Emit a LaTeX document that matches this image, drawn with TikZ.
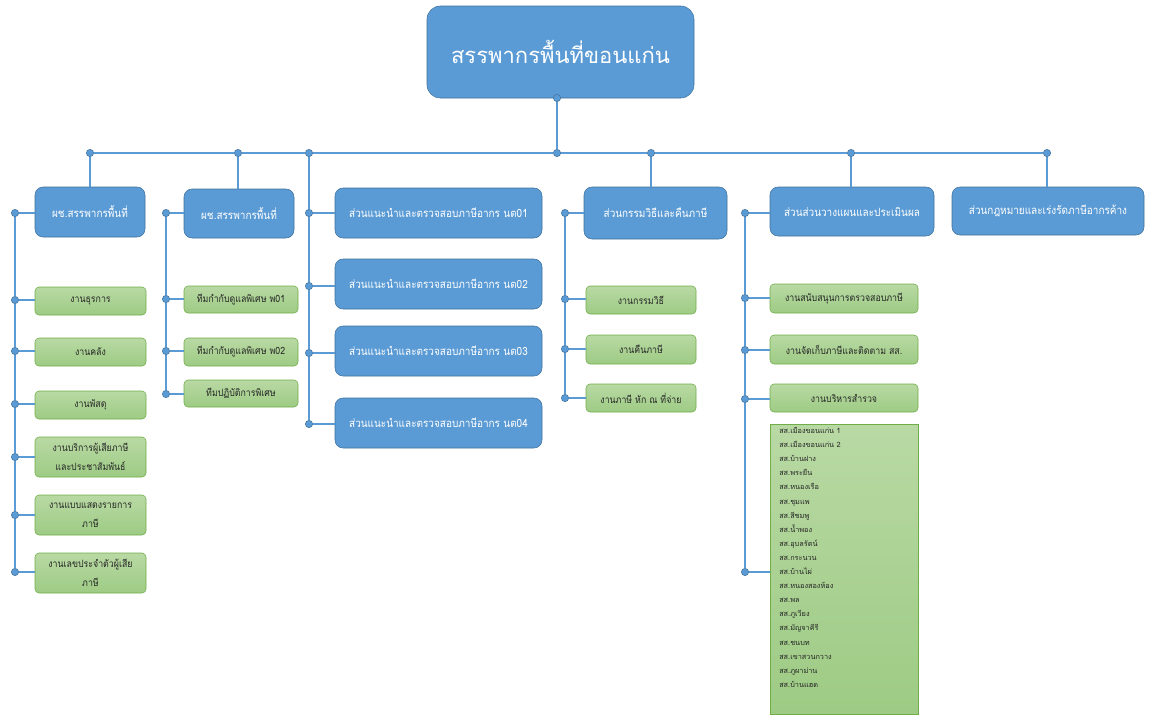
\documentclass[tikz,border=0pt]{standalone}
\usepackage{fontspec}
\newfontfamily\thaifont[Script=Thai]{Loma}
\newfontfamily\thaicond[Script=Thai,FakeStretch=0.88]{Loma}
\definecolor{unitfill}{HTML}{5B9BD5}
\definecolor{unitdraw}{HTML}{41719C}
\definecolor{taskdraw}{HTML}{70AD47}
\definecolor{tasktop}{HTML}{B9D9A4}
\definecolor{taskbot}{HTML}{9DCB84}
\definecolor{tasktext}{HTML}{262626}
\definecolor{wire}{HTML}{5B9BD5}
\tikzset{
  unit/.style={draw=unitdraw, fill=unitfill, rounded corners=6pt, text=white,
    inner sep=0pt, font=\thaicond\fontsize{8.5}{10}\selectfont},
  task/.style={draw=taskdraw, top color=tasktop, bottom color=taskbot,
    rounded corners=3pt, text=tasktext, inner sep=0pt, align=center,
    font=\thaicond\fontsize{7.5}{14.5}\selectfont},
  jdot/.style={circle, draw=unitdraw, fill=unitfill, inner sep=0pt, minimum size=5.5pt},
  wire/.style={draw=wire, line width=0.8pt},
  bus/.style={draw=wire, line width=1.3pt},
}
\begin{document}
\begin{tikzpicture}[x=0.75pt, y=-0.75pt]
  \useasboundingbox (0,0) rectangle (1157,719);

  % สำนักงาน
  \node[unit, minimum width=267*0.75pt, minimum height=92*0.75pt, rounded corners=10pt,
    font=\thaifont\fontsize{16.5}{20}\selectfont] (top) at (560.5,52) {สรรพากรพื้นที่ขอนแก่น};

  % ส่วนและผู้ช่วย
  \node[unit, minimum width=110*0.75pt, minimum height=50*0.75pt] (uA) at (90,212) {ผช.สรรพากรพื้นที่};
  \node[unit, minimum width=110*0.75pt, minimum height=49*0.75pt] (uB) at (239,213.5) {ผช.สรรพากรพื้นที่};
  \node[unit, minimum width=207*0.75pt, minimum height=50*0.75pt] (n1) at (438.5,213) {ส่วนแนะนำและตรวจสอบภาษีอากร นต01};
  \node[unit, minimum width=207*0.75pt, minimum height=50*0.75pt] (n2) at (438.5,284) {ส่วนแนะนำและตรวจสอบภาษีอากร นต02};
  \node[unit, minimum width=207*0.75pt, minimum height=50*0.75pt] (n3) at (438.5,351) {ส่วนแนะนำและตรวจสอบภาษีอากร นต03};
  \node[unit, minimum width=207*0.75pt, minimum height=50*0.75pt] (n4) at (438.5,423) {ส่วนแนะนำและตรวจสอบภาษีอากร นต04};
  \node[unit, minimum width=143*0.75pt, minimum height=52*0.75pt] (uD) at (655.5,213) {ส่วนกรรมวิธีและคืนภาษี};
  \node[unit, minimum width=164*0.75pt, minimum height=49*0.75pt] (uE) at (852,211.5) {ส่วนส่วนวางแผนและประเมินผล};
  \node[unit, minimum width=192*0.75pt, minimum height=48*0.75pt] (uF) at (1048,211) {ส่วนกฎหมายและเร่งรัดภาษีอากรค้าง};

  % งานใต้ ผช. 1
  \node[task, minimum width=111*0.75pt, minimum height=28*0.75pt] (a1) at (90.5,301) {งานธุรการ};
  \node[task, minimum width=111*0.75pt, minimum height=28*0.75pt] (a2) at (90.5,352) {งานคลัง};
  \node[task, minimum width=111*0.75pt, minimum height=28*0.75pt] (a3) at (90.5,405) {งานพัสดุ};
  \node[task, minimum width=111*0.75pt, minimum height=40*0.75pt] (a4) at (90.5,457) {งานบริการผู้เสียภาษี\\และประชาสัมพันธ์};
  \node[task, minimum width=111*0.75pt, minimum height=40*0.75pt] (a5) at (90.5,515) {งานแบบแสดงรายการ\\ภาษี};
  \node[task, minimum width=111*0.75pt, minimum height=40*0.75pt] (a6) at (90.5,573) {งานเลขประจำตัวผู้เสีย\\ภาษี};

  % ทีมใต้ ผช. 2
  \node[task, minimum width=114*0.75pt, minimum height=27*0.75pt] (t1) at (241,299.5) {ทีมกำกับดูแลพิเศษ พ01};
  \node[task, minimum width=114*0.75pt, minimum height=28*0.75pt] (t2) at (241,352) {ทีมกำกับดูแลพิเศษ พ02};
  \node[task, minimum width=114*0.75pt, minimum height=27*0.75pt] (t3) at (241,393.5) {ทีมปฏิบัติการพิเศษ};

  % งานใต้ส่วนกรรมวิธี
  \node[task, minimum width=110*0.75pt, minimum height=28*0.75pt] (g1) at (641,300) {งานกรรมวิธี};
  \node[task, minimum width=110*0.75pt, minimum height=29*0.75pt] (g2) at (641,349.5) {งานคืนภาษี};
  \node[task, minimum width=110*0.75pt, minimum height=28*0.75pt] (g3) at (641,398) {งานภาษี หัก ณ ที่จ่าย};

  % งานใต้ส่วนวางแผน
  \node[task, minimum width=148*0.75pt, minimum height=29*0.75pt] (p1) at (844,298.5) {งานสนับสนุนการตรวจสอบภาษี};
  \node[task, minimum width=148*0.75pt, minimum height=29*0.75pt] (p2) at (844,349.5) {งานจัดเก็บภาษีและติดตาม สส.};
  \node[task, minimum width=148*0.75pt, minimum height=28*0.75pt] (p3) at (844,398) {งานบริหารสำรวจ};
  \node[task, rounded corners=0pt, minimum width=148*0.75pt, minimum height=290*0.75pt] (p4) at (844,569) {};
  \foreach \d [count=\i] in {สส.เมืองขอนแก่น 1, สส.เมืองขอนแก่น 2, สส.บ้านฝาง, สส.พระยืน,
      สส.หนองเรือ, สส.ชุมแพ, สส.สีชมพู, สส.น้ำพอง, สส.อุบลรัตน์, สส.กระนวน, สส.บ้านไผ่,
      สส.หนองสองห้อง, สส.พล, สส.ภูเวียง, สส.มัญจาคีรี, สส.ชนบท, สส.เขาสวนกวาง,
      สส.ภูผาม่าน, สส.บ้านแฮด} {
    \node[anchor=base west, inner sep=0pt, text=tasktext, font=\thaifont\fontsize{5.5}{6}\selectfont]
      (d\i) at (779, {433.5+14.1*(\i-1)}) {\d};
  }

  % จุดต่อ
  \node[jdot] (tdot) at (557,98) {};
  \foreach \n/\x in {b1/90, b2/238, b3/309, b0/557, b4/651, b5/851, b6/1047}
    \node[jdot] (\n) at (\x,153) {};
  \foreach \n/\y in {s0/213, s1/300, s2/351, s3/404, s4/457, s5/515, s6/572}
    \node[jdot] (\n) at (15,\y) {};
  \foreach \n/\y in {q0/213, q1/299, q2/351, q3/394}
    \node[jdot] (\n) at (166,\y) {};
  \foreach \n/\y in {c1/213, c2/286, c3/353, c4/424}
    \node[jdot] (\n) at (309,\y) {};
  \foreach \n/\y in {k0/213, k1/299, k2/349, k3/398}
    \node[jdot] (\n) at (565,\y) {};
  \foreach \n/\y in {e0/213, e1/298, e2/350, e3/399, e4/572}
    \node[jdot] (\n) at (745,\y) {};

  % เส้นหลัก
  \draw[bus] (b1) -- (b2) -- (b3) -- (b0) -- (b4) -- (b5) -- (b6);
  \draw[wire] (tdot) -- (b0);
  \draw[wire] (b1) -- (b1 |- uA.north);
  \draw[wire] (b2) -- (b2 |- uB.north);
  \draw[wire] (b4) -- (b4 |- uD.north);
  \draw[wire] (b5) -- (b5 |- uE.north);
  \draw[wire] (b6) -- (b6 |- uF.north);
  \draw[wire] (b3) -- (c1) -- (c2) -- (c3) -- (c4);

  % เส้นข้าง
  \draw[wire] (s0) -- (s1) -- (s2) -- (s3) -- (s4) -- (s5) -- (s6);
  \draw[wire] (q0) -- (q1) -- (q2) -- (q3);
  \draw[wire] (k0) -- (k1) -- (k2) -- (k3);
  \draw[wire] (e0) -- (e1) -- (e2) -- (e3) -- (e4);

  % เส้นเข้ากล่อง
  \foreach \j/\b in {s0/uA, s1/a1, s2/a2, s3/a3, s4/a4, s5/a5, s6/a6,
      q0/uB, q1/t1, q2/t2, q3/t3, c1/n1, c2/n2, c3/n3, c4/n4,
      k0/uD, k1/g1, k2/g2, k3/g3, e0/uE, e1/p1, e2/p2, e3/p3, e4/p4}
    \draw[wire] (\j) -- (\j -| \b.west);
\end{tikzpicture}
\end{document}
